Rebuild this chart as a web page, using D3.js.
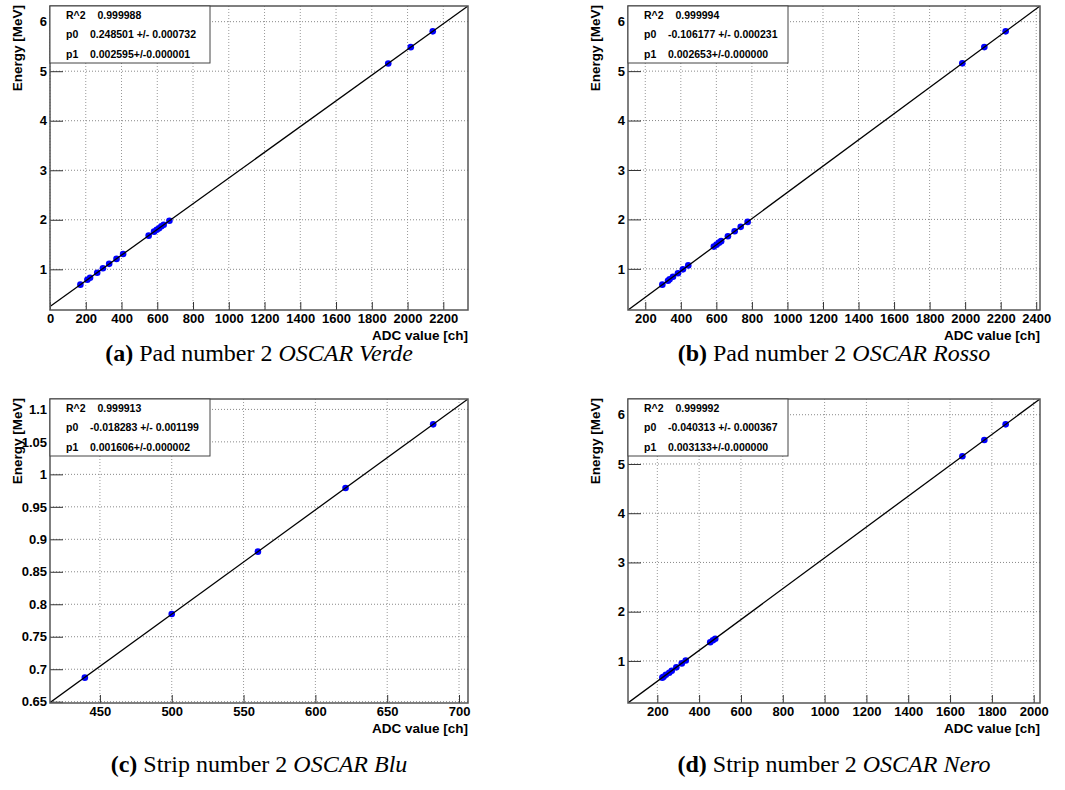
<!DOCTYPE html>
<html>
<head>
<meta charset="utf-8">
<script src="https://cdn.jsdelivr.net/npm/d3@7"></script>
<style>
  body{margin:0;background:#fff}
  svg{display:block}
  .tick text{font-family:"Liberation Sans",Arial,sans-serif;font-weight:bold;font-size:13px;fill:#000}
  .tick line{stroke:#333}
</style>
</head>
<body>
<main></main>
<script>
// values
const adcVerde=[170,209,224,264,296,331,372,409,552,582,597,610,623,636,668,1892,2018,2141];
const energyVerde=[0.69,0.79,0.83,0.93,1.02,1.11,1.21,1.31,1.68,1.76,1.80,1.83,1.87,1.90,1.98,5.157,5.486,5.805];
const adcRosso=[296,328,337,356,384,412,442,586,601,615,627,665,703,737,776,1984,2108,2228];
const energyRosso=[0.68,0.76,0.79,0.84,0.91,0.99,1.07,1.45,1.49,1.53,1.56,1.66,1.76,1.85,1.95,5.157,5.486,5.805];
const adcBlu=[439.5,500,560,621,682];
const energyBlu=[0.687,0.785,0.881,0.979,1.077];
const adcNero=[224,230,241,257,269,291,317,336,453,466,477,1659,1764,1866];
const energyNero=[0.66,0.68,0.72,0.76,0.80,0.87,0.95,1.01,1.38,1.42,1.45,5.157,5.486,5.805];

// fit results printed in the boxes
const fitR2=['0.999988','0.999994','0.999913','0.999992'];
const fitP0=[0.248501,-0.106177,-0.018283,-0.040313];
const fitP0Err=['0.000732','0.000231','0.001199','0.000367'];
const fitP1=[0.002595,0.002653,0.001606,0.003133];
const fitP1Err=['0.000001','0.000000','0.000002','0.000000'];

const captionTag=['(a)','(b)','(c)','(d)'];
const captionText=['Pad number 2','Pad number 2','Strip number 2','Strip number 2'];
const captionName=['OSCAR Verde','OSCAR Rosso','OSCAR Blu','OSCAR Nero'];

const xTitle='ADC value [ch]';
const yTitle='Energy [MeV]';

// layout of each pad (pixels)
const pads=[
  {x:50, y:6,  w:418,h:304,xStep:200,xMinor:50,yStep:1,   yMinor:0.2, capY:361},
  {x:628,y:6,  w:412,h:304,xStep:200,xMinor:50,yStep:1,   yMinor:0.2, capY:361},
  {x:50, y:399,w:418,h:304,xStep:50, xMinor:10,yStep:0.05,yMinor:0.01,capY:772},
  {x:628,y:399,w:412,h:304,xStep:200,xMinor:50,yStep:1,   yMinor:0.2, capY:772}
];
const series=[[adcVerde,energyVerde],[adcRosso,energyRosso],[adcBlu,energyBlu],[adcNero,energyNero]];

const svg=d3.select('main').append('svg').attr('width',1065).attr('height',790);

// root-like automatic range: 10% margin each side, no negative start for positive data
const autoRange=(v)=>{
  const lo=d3.min(v),hi=d3.max(v),d=hi-lo;
  let a=lo-0.1*d;
  if(a<0&&lo>=0)a=0;
  return [a,hi+0.1*d];
};
const ticksBy=(dom,step)=>d3.range(Math.ceil(dom[0]/step-1e-9),Math.floor(dom[1]/step+1e-9)+1)
  .map(i=>+(i*step).toFixed(6));
const fmt=d3.format('~g');

pads.forEach((p,i)=>{
  const [adc,en]=series[i];
  const xDom=autoRange(adc), yDom=autoRange(en);
  const x=d3.scaleLinear().domain(xDom).range([0,p.w]);
  const y=d3.scaleLinear().domain(yDom).range([p.h,0]);
  const xMaj=ticksBy(xDom,p.xStep), yMaj=ticksBy(yDom,p.yStep);
  const xMin=ticksBy(xDom,p.xMinor), yMin=ticksBy(yDom,p.yMinor);

  const g=svg.append('g').attr('transform',`translate(${p.x},${p.y})`);
  g.append('clipPath').attr('id','clip'+i).append('rect').attr('width',p.w).attr('height',p.h);

  // grid
  g.append('g').selectAll('line').data(xMaj).join('line')
    .attr('x1',d=>x(d)).attr('x2',d=>x(d)).attr('y1',0).attr('y2',p.h)
    .attr('stroke','#999').attr('stroke-dasharray','1,2');
  g.append('g').selectAll('line').data(yMaj).join('line')
    .attr('y1',d=>y(d)).attr('y2',d=>y(d)).attr('x1',0).attr('x2',p.w)
    .attr('stroke','#888').attr('stroke-dasharray','1,2');

  // points + fit line
  const plot=g.append('g').attr('clip-path',`url(#clip${i})`);
  plot.selectAll('circle').data(adc).join('circle')
    .attr('cx',d=>x(d)).attr('cy',(d,k)=>y(en[k])).attr('r',3.3).attr('fill','#0000ff');
  plot.append('path')
    .datum(xDom)
    .attr('d',d3.line().x(d=>x(d)).y(d=>y(fitP0[i]+fitP1[i]*d)))
    .attr('stroke','#000').attr('stroke-width',1.3).attr('fill','none');

  // axes: major + minor ticks pointing inwards
  const bottom=g.append('g').attr('transform',`translate(0,${p.h})`);
  bottom.call(d3.axisBottom(x).tickValues(xMin).tickFormat('').tickSizeInner(-4).tickSizeOuter(0));
  bottom.call(d3.axisBottom(x).tickValues(xMaj).tickFormat(fmt).tickSizeInner(-8).tickSizeOuter(0).tickPadding(4));
  const left=g.append('g');
  left.call(d3.axisLeft(y).tickValues(yMin).tickFormat('').tickSizeInner(-7).tickSizeOuter(0));
  left.call(d3.axisLeft(y).tickValues(yMaj).tickFormat(fmt).tickSizeInner(-13).tickSizeOuter(0).tickPadding(3));
  g.selectAll('.domain').remove();

  // frame
  g.append('rect').attr('width',p.w).attr('height',p.h)
    .attr('fill','none').attr('stroke','#555').attr('stroke-width',1.5);

  // fit box
  const box=g.append('g').style('font-family','"Liberation Sans",Arial,sans-serif')
    .style('font-weight','bold').style('font-size','10.5px');
  box.append('rect').attr('width',160).attr('height',57)
    .attr('fill','#fff').attr('stroke','#444').attr('stroke-width',1);
  const rows=[
    ['R^2',fitR2[i],47.5],
    ['p0',fitP0[i].toFixed(6)+' +/- '+fitP0Err[i],40],
    ['p1',fitP1[i].toFixed(6)+'+/-'+fitP1Err[i],40]
  ];
  rows.forEach((r,k)=>{
    const yy=13+k*19.3;
    box.append('text').attr('x',16).attr('y',yy).text(r[0]);
    box.append('text').attr('x',r[2]).attr('y',yy).text(r[1]);
  });

  // axis titles
  g.append('text').attr('x',p.w).attr('y',p.h+30).attr('text-anchor','end')
    .style('font-family','"Liberation Sans",Arial,sans-serif').style('font-weight','bold').style('font-size','13.5px')
    .text(xTitle);
  g.append('text').attr('transform',`translate(-28.5,-1) rotate(-90)`).attr('text-anchor','end')
    .style('font-family','"Liberation Sans",Arial,sans-serif').style('font-weight','bold').style('font-size','13.5px')
    .text(yTitle);

  // caption
  const cap=svg.append('text').attr('x',p.x+p.w/2).attr('y',p.capY).attr('text-anchor','middle')
    .style('font-family','"Liberation Serif","Times New Roman",serif').style('font-size','24px');
  cap.append('tspan').style('font-weight','bold').text(captionTag[i]);
  cap.append('tspan').text(' '+captionText[i]+' ');
  cap.append('tspan').style('font-style','italic').text(captionName[i]);
});
</script>
</body>
</html>
